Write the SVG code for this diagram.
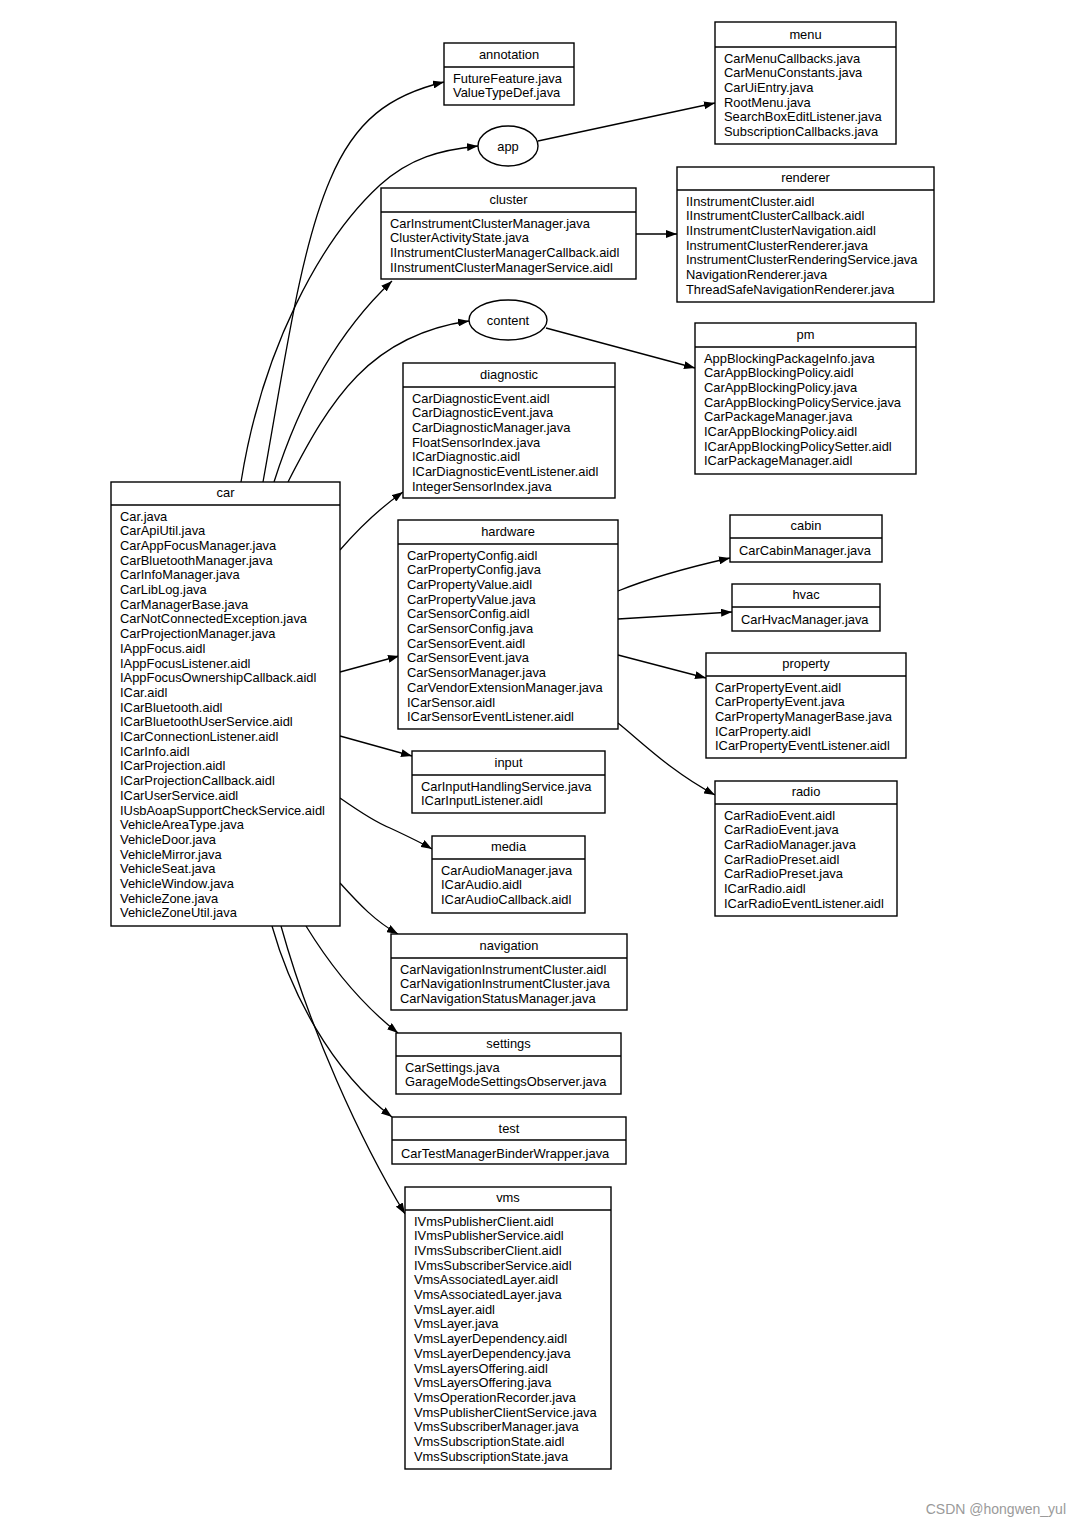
<svg xmlns="http://www.w3.org/2000/svg" width="1080" height="1528" viewBox="0 0 1080 1528">
<style>
text{font-family:"Liberation Sans",Arial,sans-serif;font-size:12.9px;fill:#000}
.t{text-anchor:middle}
.i{transform:translateY(1.5px)}
.b{fill:#fff;stroke:#000;stroke-width:1.4}
.d{stroke:#000;stroke-width:1.4}
.e{fill:none;stroke:#000;stroke-width:1.3}
.wm{font-size:14px;fill:#9a9a9a}
</style>
<defs>
<marker id="ah" viewBox="0 0 11 8" refX="11" refY="4" markerWidth="11" markerHeight="8" markerUnits="userSpaceOnUse" orient="auto">
<path d="M0,0 L11,4 L0,8 z" fill="#000"/>
</marker>
</defs>
<rect width="1080" height="1528" fill="#fff"/>

<g id="edges">
<path class="e" marker-end="url(#ah)" d="M241,482 C262,350 320,240 380,185 C410,158 440,150 478,146"/>
<path class="e" marker-end="url(#ah)" d="M263,482 C285,360 300,250 330,180 C355,120 390,95 444,82"/>
<path class="e" marker-end="url(#ah)" d="M274,482 C300,400 340,330 392,281"/>
<path class="e" marker-end="url(#ah)" d="M288,482 C330,400 370,335 469,321"/>
<path class="e" marker-end="url(#ah)" d="M538,141 L715,103"/>
<path class="e" marker-end="url(#ah)" d="M636,234 L677,234"/>
<path class="e" marker-end="url(#ah)" d="M546,328 L695,368"/>
<path class="e" marker-end="url(#ah)" d="M340,550 C360,527 380,508 403,492"/>
<path class="e" marker-end="url(#ah)" d="M340,672 L399,656"/>
<path class="e" marker-end="url(#ah)" d="M340,736 L412,756"/>
<path class="e" marker-end="url(#ah)" d="M340,798 C360,812 375,822 390,828 C405,835 420,842 432,849"/>
<path class="e" marker-end="url(#ah)" d="M340,883 C360,905 375,921 398,934"/>
<path class="e" marker-end="url(#ah)" d="M306,926 C330,965 360,1003 398,1033"/>
<path class="e" marker-end="url(#ah)" d="M272,926 C290,990 330,1070 392,1117"/>
<path class="e" marker-end="url(#ah)" d="M281,926 C310,1030 360,1140 405,1214"/>
<path class="e" marker-end="url(#ah)" d="M618,591 C650,578 690,567 730,558"/>
<path class="e" marker-end="url(#ah)" d="M618,619 L732,612"/>
<path class="e" marker-end="url(#ah)" d="M618,655 L706,678"/>
<path class="e" marker-end="url(#ah)" d="M618,723 C645,745 672,772 715,795"/>
</g>

<g id="annotation">
<rect class="b" x="444" y="43" width="130" height="62"/>
<line class="d" x1="444" y1="67" x2="574" y2="67"/>
<text class="t" x="509" y="59">annotation</text>
<g class="i">
<text x="453" y="81">FutureFeature.java</text>
<text x="453" y="95.7">ValueTypeDef.java</text>
</g>
</g>

<g id="app">
<ellipse class="b" cx="508" cy="146" rx="30" ry="20"/>
<text class="t" x="508" y="150.5">app</text>
</g>

<g id="menu">
<rect class="b" x="715" y="22" width="181" height="122"/>
<line class="d" x1="715" y1="47" x2="896" y2="47"/>
<text class="t" x="805.5" y="39">menu</text>
<g class="i">
<text x="724" y="61">CarMenuCallbacks.java</text>
<text x="724" y="75.7">CarMenuConstants.java</text>
<text x="724" y="90.4">CarUiEntry.java</text>
<text x="724" y="105.1">RootMenu.java</text>
<text x="724" y="119.8">SearchBoxEditListener.java</text>
<text x="724" y="134.5">SubscriptionCallbacks.java</text>
</g>
</g>

<g id="cluster">
<rect class="b" x="381" y="188" width="255" height="91"/>
<line class="d" x1="381" y1="212" x2="636" y2="212"/>
<text class="t" x="508.5" y="204">cluster</text>
<g class="i">
<text x="390" y="226">CarInstrumentClusterManager.java</text>
<text x="390" y="240.7">ClusterActivityState.java</text>
<text x="390" y="255.4">IInstrumentClusterManagerCallback.aidl</text>
<text x="390" y="270.1">IInstrumentClusterManagerService.aidl</text>
</g>
</g>

<g id="renderer">
<rect class="b" x="677" y="167" width="257" height="135"/>
<line class="d" x1="677" y1="190" x2="934" y2="190"/>
<text class="t" x="805.5" y="182">renderer</text>
<g class="i">
<text x="686" y="204">IInstrumentCluster.aidl</text>
<text x="686" y="218.7">IInstrumentClusterCallback.aidl</text>
<text x="686" y="233.4">IInstrumentClusterNavigation.aidl</text>
<text x="686" y="248.1">InstrumentClusterRenderer.java</text>
<text x="686" y="262.8">InstrumentClusterRenderingService.java</text>
<text x="686" y="277.5">NavigationRenderer.java</text>
<text x="686" y="292.2">ThreadSafeNavigationRenderer.java</text>
</g>
</g>

<g id="content">
<ellipse class="b" cx="508" cy="320" rx="39" ry="20"/>
<text class="t" x="508" y="324.5">content</text>
</g>

<g id="pm">
<rect class="b" x="695" y="323" width="221" height="151"/>
<line class="d" x1="695" y1="347" x2="916" y2="347"/>
<text class="t" x="805.5" y="339">pm</text>
<g class="i">
<text x="704" y="361">AppBlockingPackageInfo.java</text>
<text x="704" y="375.7">CarAppBlockingPolicy.aidl</text>
<text x="704" y="390.4">CarAppBlockingPolicy.java</text>
<text x="704" y="405.1">CarAppBlockingPolicyService.java</text>
<text x="704" y="419.8">CarPackageManager.java</text>
<text x="704" y="434.5">ICarAppBlockingPolicy.aidl</text>
<text x="704" y="449.2">ICarAppBlockingPolicySetter.aidl</text>
<text x="704" y="463.9">ICarPackageManager.aidl</text>
</g>
</g>

<g id="diagnostic">
<rect class="b" x="403" y="363" width="212" height="135"/>
<line class="d" x1="403" y1="387" x2="615" y2="387"/>
<text class="t" x="509" y="379">diagnostic</text>
<g class="i">
<text x="412" y="401">CarDiagnosticEvent.aidl</text>
<text x="412" y="415.7">CarDiagnosticEvent.java</text>
<text x="412" y="430.4">CarDiagnosticManager.java</text>
<text x="412" y="445.1">FloatSensorIndex.java</text>
<text x="412" y="459.8">ICarDiagnostic.aidl</text>
<text x="412" y="474.5">ICarDiagnosticEventListener.aidl</text>
<text x="412" y="489.2">IntegerSensorIndex.java</text>
</g>
</g>

<g id="car">
<rect class="b" x="111" y="482" width="229" height="444"/>
<line class="d" x1="111" y1="505" x2="340" y2="505"/>
<text class="t" x="225.5" y="497">car</text>
<g class="i">
<text x="120" y="519">Car.java</text>
<text x="120" y="533.7">CarApiUtil.java</text>
<text x="120" y="548.4">CarAppFocusManager.java</text>
<text x="120" y="563.1">CarBluetoothManager.java</text>
<text x="120" y="577.8">CarInfoManager.java</text>
<text x="120" y="592.5">CarLibLog.java</text>
<text x="120" y="607.2">CarManagerBase.java</text>
<text x="120" y="621.9">CarNotConnectedException.java</text>
<text x="120" y="636.6">CarProjectionManager.java</text>
<text x="120" y="651.3">IAppFocus.aidl</text>
<text x="120" y="666">IAppFocusListener.aidl</text>
<text x="120" y="680.7">IAppFocusOwnershipCallback.aidl</text>
<text x="120" y="695.4">ICar.aidl</text>
<text x="120" y="710.1">ICarBluetooth.aidl</text>
<text x="120" y="724.8">ICarBluetoothUserService.aidl</text>
<text x="120" y="739.5">ICarConnectionListener.aidl</text>
<text x="120" y="754.2">ICarInfo.aidl</text>
<text x="120" y="768.9">ICarProjection.aidl</text>
<text x="120" y="783.6">ICarProjectionCallback.aidl</text>
<text x="120" y="798.3">ICarUserService.aidl</text>
<text x="120" y="813">IUsbAoapSupportCheckService.aidl</text>
<text x="120" y="827.7">VehicleAreaType.java</text>
<text x="120" y="842.4">VehicleDoor.java</text>
<text x="120" y="857.1">VehicleMirror.java</text>
<text x="120" y="871.8">VehicleSeat.java</text>
<text x="120" y="886.5">VehicleWindow.java</text>
<text x="120" y="901.2">VehicleZone.java</text>
<text x="120" y="915.9">VehicleZoneUtil.java</text>
</g>
</g>

<g id="hardware">
<rect class="b" x="398" y="520" width="220" height="209"/>
<line class="d" x1="398" y1="544" x2="618" y2="544"/>
<text class="t" x="508" y="536">hardware</text>
<g class="i">
<text x="407" y="558">CarPropertyConfig.aidl</text>
<text x="407" y="572.7">CarPropertyConfig.java</text>
<text x="407" y="587.4">CarPropertyValue.aidl</text>
<text x="407" y="602.1">CarPropertyValue.java</text>
<text x="407" y="616.8">CarSensorConfig.aidl</text>
<text x="407" y="631.5">CarSensorConfig.java</text>
<text x="407" y="646.2">CarSensorEvent.aidl</text>
<text x="407" y="660.9">CarSensorEvent.java</text>
<text x="407" y="675.6">CarSensorManager.java</text>
<text x="407" y="690.3">CarVendorExtensionManager.java</text>
<text x="407" y="705">ICarSensor.aidl</text>
<text x="407" y="719.7">ICarSensorEventListener.aidl</text>
</g>
</g>

<g id="cabin">
<rect class="b" x="730" y="515" width="152" height="47"/>
<line class="d" x1="730" y1="538" x2="882" y2="538"/>
<text class="t" x="806" y="530">cabin</text>
<text class="i" x="739" y="553">CarCabinManager.java</text>
</g>

<g id="hvac">
<rect class="b" x="732" y="584" width="148" height="47"/>
<line class="d" x1="732" y1="607" x2="880" y2="607"/>
<text class="t" x="806" y="599">hvac</text>
<text class="i" x="741" y="622">CarHvacManager.java</text>
</g>

<g id="property">
<rect class="b" x="706" y="653" width="200" height="105"/>
<line class="d" x1="706" y1="676" x2="906" y2="676"/>
<text class="t" x="806" y="668">property</text>
<g class="i">
<text x="715" y="690">CarPropertyEvent.aidl</text>
<text x="715" y="704.7">CarPropertyEvent.java</text>
<text x="715" y="719.4">CarPropertyManagerBase.java</text>
<text x="715" y="734.1">ICarProperty.aidl</text>
<text x="715" y="748.8">ICarPropertyEventListener.aidl</text>
</g>
</g>

<g id="input">
<rect class="b" x="412" y="751" width="193" height="62"/>
<line class="d" x1="412" y1="775" x2="605" y2="775"/>
<text class="t" x="508.5" y="767">input</text>
<g class="i">
<text x="421" y="789">CarInputHandlingService.java</text>
<text x="421" y="803.7">ICarInputListener.aidl</text>
</g>
</g>

<g id="radio">
<rect class="b" x="715" y="781" width="182" height="135"/>
<line class="d" x1="715" y1="804" x2="897" y2="804"/>
<text class="t" x="806" y="796">radio</text>
<g class="i">
<text x="724" y="818">CarRadioEvent.aidl</text>
<text x="724" y="832.7">CarRadioEvent.java</text>
<text x="724" y="847.4">CarRadioManager.java</text>
<text x="724" y="862.1">CarRadioPreset.aidl</text>
<text x="724" y="876.8">CarRadioPreset.java</text>
<text x="724" y="891.5">ICarRadio.aidl</text>
<text x="724" y="906.2">ICarRadioEventListener.aidl</text>
</g>
</g>

<g id="media">
<rect class="b" x="432" y="836" width="153" height="77"/>
<line class="d" x1="432" y1="859" x2="585" y2="859"/>
<text class="t" x="508.5" y="851">media</text>
<g class="i">
<text x="441" y="873">CarAudioManager.java</text>
<text x="441" y="887.7">ICarAudio.aidl</text>
<text x="441" y="902.4">ICarAudioCallback.aidl</text>
</g>
</g>

<g id="navigation">
<rect class="b" x="391" y="934" width="236" height="76"/>
<line class="d" x1="391" y1="958" x2="627" y2="958"/>
<text class="t" x="509" y="950">navigation</text>
<g class="i">
<text x="400" y="972">CarNavigationInstrumentCluster.aidl</text>
<text x="400" y="986.7">CarNavigationInstrumentCluster.java</text>
<text x="400" y="1001.4">CarNavigationStatusManager.java</text>
</g>
</g>

<g id="settings">
<rect class="b" x="396" y="1033" width="225" height="61"/>
<line class="d" x1="396" y1="1056" x2="621" y2="1056"/>
<text class="t" x="508.5" y="1048">settings</text>
<g class="i">
<text x="405" y="1070">CarSettings.java</text>
<text x="405" y="1084.7">GarageModeSettingsObserver.java</text>
</g>
</g>

<g id="test">
<rect class="b" x="392" y="1117" width="234" height="47"/>
<line class="d" x1="392" y1="1140" x2="626" y2="1140"/>
<text class="t" x="509" y="1133">test</text>
<text class="i" x="401" y="1156">CarTestManagerBinderWrapper.java</text>
</g>

<g id="vms">
<rect class="b" x="405" y="1187" width="206" height="282"/>
<line class="d" x1="405" y1="1210" x2="611" y2="1210"/>
<text class="t" x="508" y="1202">vms</text>
<g class="i">
<text x="414" y="1224">IVmsPublisherClient.aidl</text>
<text x="414" y="1238.7">IVmsPublisherService.aidl</text>
<text x="414" y="1253.4">IVmsSubscriberClient.aidl</text>
<text x="414" y="1268.1">IVmsSubscriberService.aidl</text>
<text x="414" y="1282.8">VmsAssociatedLayer.aidl</text>
<text x="414" y="1297.5">VmsAssociatedLayer.java</text>
<text x="414" y="1312.2">VmsLayer.aidl</text>
<text x="414" y="1326.9">VmsLayer.java</text>
<text x="414" y="1341.6">VmsLayerDependency.aidl</text>
<text x="414" y="1356.3">VmsLayerDependency.java</text>
<text x="414" y="1371">VmsLayersOffering.aidl</text>
<text x="414" y="1385.7">VmsLayersOffering.java</text>
<text x="414" y="1400.4">VmsOperationRecorder.java</text>
<text x="414" y="1415.1">VmsPublisherClientService.java</text>
<text x="414" y="1429.8">VmsSubscriberManager.java</text>
<text x="414" y="1444.5">VmsSubscriptionState.aidl</text>
<text x="414" y="1459.2">VmsSubscriptionState.java</text>
</g>
</g>

<text class="wm" x="1066" y="1514" text-anchor="end">CSDN @hongwen_yul</text>
</svg>
